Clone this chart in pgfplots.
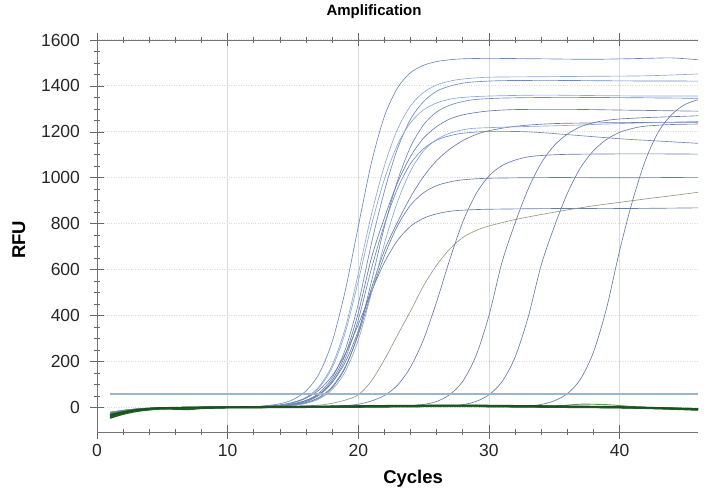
\documentclass[border=0pt]{standalone}
\usepackage{fontspec}
\setmainfont{Liberation Sans}
\usepackage{pgfplots}
\pgfplotsset{compat=1.18}
\definecolor{curveblue}{RGB}{108,138,192}
\definecolor{curvelight}{RGB}{140,168,214}
\definecolor{curvedark}{RGB}{104,124,168}
\definecolor{neggreen}{RGB}{30,96,36}
\definecolor{neglight}{RGB}{100,146,80}
\definecolor{thrcol}{RGB}{160,180,200}
\definecolor{graycurve}{RGB}{145,155,130}
\definecolor{gridgray}{RGB}{218,218,218}

\begin{document}
\begin{tikzpicture}
\path[use as bounding box] (0,0) rectangle (722pt,487pt);
\begin{axis}[
  at={(97pt,55pt)}, anchor=south west,
  scale only axis, width=601pt, height=392pt,
  xmin=0, xmax=46, ymin=-107, ymax=1600,
  xtick={0,10,20,30,40}, ytick={0,200,...,1600},
  minor x tick num=4, minor y tick num=3,
  axis x line=box, axis y line=left,
  axis line style={-, draw=black!55, line width=0.8pt},
  tick align=center, major tick length=13pt, minor tick length=6pt,
  tick style={black!60, line width=0.7pt},
  xmajorgrids, ymajorgrids,
  major x grid style={gridgray, line width=0.6pt},
  major y grid style={gridgray, dotted, line width=1pt},
  tick label style={font=\fontsize{17.5}{20}\selectfont, text=black!85},
  yticklabel style={xshift=-7pt},
  xticklabel style={yshift=-2pt},
  /pgf/number format/assume math mode=true,
  /pgf/number format/1000 sep={},
  title={Amplification},
  title style={font=\bfseries\fontsize{15}{18}\selectfont, at={(axis description cs:0.461,1.056)}, anchor=center},
  xlabel={Cycles},
  xlabel style={font=\bfseries\fontsize{18.5}{20}\selectfont, at={(axis description cs:0.526,-0.12)}, anchor=center},
  ylabel={RFU},
  ylabel style={font=\bfseries\fontsize{18.5}{20}\selectfont, at={(axis description cs:-0.13,0.49)}, anchor=center},
  every axis plot/.append style={smooth, line width=0.65pt},
]
% early amplifying wells
\addplot[curveblue] coordinates {(1,-28) (2,-17) (3,-9) (4,-5) (6,-1) (9,1) (12,3) (13,8) (14,16) (15,34) (16,72) (17,147) (18,286) (19,508) (20,789) (21,1064) (22,1268) (23,1391) (24,1458) (25,1490) (26,1506) (27,1514) (28,1518) (30,1520) (34,1518) (38,1516) (42,1520) (44,1522) (46,1514)};
\addplot[curvelight] coordinates {(1,-22) (2,-13) (3,-7) (4,-3) (6,0) (9,2) (12,3) (13,5) (14,9) (15,21) (16,44) (17,91) (18,184) (19,345) (20,583) (21,839) (22,1053) (23,1211) (24,1313) (25,1372) (26,1404) (27,1421) (28,1430) (30,1438) (34,1440) (38,1442) (42,1444) (46,1452)};
\addplot[curveblue] coordinates {(1,-35) (2,-21) (3,-11) (4,-6) (6,-2) (9,0) (12,2) (14,7) (15,14) (16,30) (17,63) (18,129) (19,252) (20,451) (21,713) (22,942) (23,1127) (24,1255) (25,1332) (26,1377) (27,1399) (28,1412) (29,1418) (31,1423) (35,1424) (40,1422) (46,1421)};
\addplot[curvelight] coordinates {(1,-30) (2,-18) (3,-9) (4,-4) (6,-1) (9,1) (12,3) (13,5) (14,9) (15,19) (16,41) (17,86) (18,173) (19,326) (20,551) (21,792) (22,994) (23,1144) (24,1240) (25,1296) (26,1326) (27,1342) (28,1350) (30,1356) (34,1360) (38,1358) (42,1356) (46,1356)};
\addplot[curveblue] coordinates {(1,-25) (2,-15) (3,-8) (4,-4) (6,0) (9,2) (12,2) (14,4) (15,9) (16,19) (17,41) (18,86) (19,172) (20,324) (21,547) (22,787) (23,987) (24,1135) (25,1231) (26,1287) (27,1316) (28,1332) (29,1341) (31,1347) (35,1350) (40,1349) (46,1346)};
\addplot[curvedark] coordinates {(1,-38) (2,-23) (3,-12) (4,-6) (6,-2) (9,0) (12,2) (14,6) (15,13) (16,27) (17,57) (18,118) (19,230) (20,412) (21,650) (22,826) (23,978) (24,1093) (25,1173) (26,1223) (27,1256) (28,1274) (29,1284) (30,1291) (32,1297) (36,1298) (40,1295) (46,1290)};
\addplot[curvedark] coordinates {(1,-26) (2,-16) (3,-8) (4,-4) (6,-1) (9,1) (12,3) (14,8) (15,16) (16,31) (17,58) (18,109) (19,197) (20,334) (21,518) (22,684) (23,807) (24,916) (25,1006) (26,1075) (27,1125) (28,1162) (29,1188) (30,1205) (32,1224) (35,1236) (40,1240) (46,1242)};
\addplot[curveblue] coordinates {(1,-20) (2,-12) (3,-6) (4,-3) (6,0) (9,2) (12,3) (14,6) (15,12) (16,25) (17,53) (18,109) (19,213) (20,382) (21,603) (22,797) (23,953) (24,1062) (25,1127) (26,1164) (27,1183) (28,1194) (30,1202) (33,1200) (36,1188) (40,1170) (43,1160) (46,1150)};
\addplot[curvedark] coordinates {(1,-33) (2,-20) (3,-10) (4,-5) (6,-1) (9,0) (12,2) (14,5) (15,10) (16,21) (17,44) (18,90) (19,177) (20,317) (21,500) (22,661) (23,791) (24,881) (25,935) (26,966) (27,982) (28,991) (30,998) (35,1001) (40,1000) (46,1002)};
\addplot[curvedark] coordinates {(1,-29) (2,-17) (3,-9) (4,-5) (6,-1) (9,1) (12,3) (13,6) (14,11) (15,22) (16,41) (17,76) (18,138) (19,233) (20,361) (21,504) (22,632) (23,727) (24,789) (25,824) (26,843) (27,854) (28,859) (30,863) (35,866) (40,866) (46,869)};
\addplot[curvelight] coordinates {(1,-24) (2,-14) (3,-7) (4,-3) (6,0) (9,2) (12,2) (14,4) (15,8) (16,18) (17,37) (18,78) (19,156) (20,294) (21,496) (22,714) (23,895) (24,1030) (25,1117) (26,1167) (27,1194) (28,1209) (29,1216) (32,1222) (36,1228) (40,1236) (46,1245)};
% slow well
\addplot[graycurve] coordinates {(1,-28) (2,-16) (3,-8) (4,-4) (6,0) (9,2) (12,3) (15,5) (17,10) (18,18) (19,32) (20,55) (21,115) (22,208) (23,315) (24,420) (25,530) (26,620) (27,690) (28,740) (29,770) (30,790) (32,818) (34,840) (36,860) (38,878) (40,893) (42,908) (44,922) (46,937)};
% late wells
\addplot[curvedark] coordinates {(1,-32) (2,-19) (3,-10) (4,-5) (6,-1) (9,1) (12,3) (15,4) (18,5) (19,8) (20,14) (21,28) (22,52) (23,97) (24,176) (25,297) (26,461) (27,644) (28,808) (29,929) (30,1008) (31,1053) (32,1077) (33,1091) (34,1097) (36,1102) (40,1104) (43,1104) (46,1103)};
\addplot[curvedark] coordinates {(1,-27) (2,-16) (3,-8) (4,-4) (6,-1) (9,1) (12,3) (16,4) (20,5) (23,5) (24,8) (25,13) (26,26) (27,56) (28,114) (29,224) (30,400) (31,632) (32,803) (33,951) (34,1064) (35,1141) (36,1190) (37,1222) (38,1240) (39,1250) (40,1256) (42,1262) (44,1266) (46,1270)};
\addplot[curvedark] coordinates {(1,-23) (2,-14) (3,-7) (4,-3) (6,0) (9,2) (12,3) (16,4) (20,5) (24,5) (27,6) (28,12) (29,26) (30,55) (31,112) (32,219) (33,393) (34,620) (35,787) (36,932) (37,1043) (38,1118) (39,1167) (40,1198) (41,1215) (42,1225) (44,1232) (46,1234)};
\addplot[curvedark] coordinates {(1,-34) (2,-20) (3,-10) (4,-5) (6,-1) (9,1) (12,3) (16,4) (20,5) (25,5) (30,3) (32,4) (33,6) (34,13) (35,29) (36,60) (37,123) (38,241) (39,432) (40,683) (41,902) (42,1080) (43,1203) (44,1276) (45,1319) (46,1340)};
% negative wells
\addplot[neggreen, line width=1.6pt] coordinates {(1,-40) (2,-25) (3,-14) (4,-8) (5,-5) (7,-2) (10,0) (13,1) (16,2) (20,3) (24,5) (28,6) (32,4) (36,2) (40,0) (43,-4) (46,-8)};
\addplot[neggreen!80!blue, line width=1.4pt] coordinates {(1,-30) (2,-20) (3,-11) (4,-6) (5,-3) (7,-1) (10,1) (13,2) (16,3) (20,5) (24,7) (28,8) (32,6) (36,4) (40,1) (43,-3) (46,-6)};
\addplot[neggreen, line width=1.6pt] coordinates {(1,-46) (2,-29) (3,-17) (4,-10) (5,-6) (7,-8) (8,-4) (10,-1) (13,0) (16,1) (20,2) (24,4) (28,5) (32,3) (36,1) (40,-1) (43,-5) (46,-11)};
\addplot[neglight, line width=0.9pt] coordinates {(1,-26) (2,-17) (3,-9) (4,-5) (5,-2) (7,0) (10,1) (13,2) (16,3) (20,4) (24,6) (28,7) (32,5) (35,6) (37,14) (39,12) (41,4) (43,-1) (46,-5)};
\addplot[neggreen, line width=1.6pt] coordinates {(1,-35) (2,-22) (3,-12) (4,-7) (5,-4) (7,-1) (10,0) (13,1) (16,2) (20,4) (24,6) (28,7) (32,5) (36,3) (40,0) (43,-3) (46,-9)};
\addplot[neggreen!85!black, line width=1.6pt] coordinates {(1,-33) (2,-20) (3,-11) (4,-5) (5,-2) (7,-1) (10,1) (13,3) (16,4) (20,6) (24,8) (28,9) (32,7) (36,5) (40,2) (43,-2) (46,-7)};
% threshold
\addplot[thrcol, line width=2pt, sharp plot] coordinates {(1,57) (46,57)};
\end{axis}
\end{tikzpicture}
\end{document}
